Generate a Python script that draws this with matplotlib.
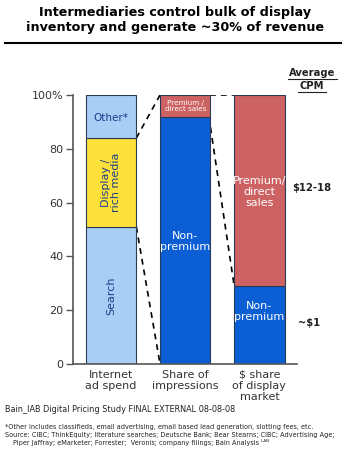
import matplotlib
matplotlib.use("Agg")
import matplotlib.pyplot as plt
from matplotlib.lines import Line2D

categories = ["Internet\nad spend", "Share of\nimpressions", "$ share\nof display\nmarket"]
# stacked segments (bottom to top)
spend_labels = ["Search", "Display /\nrich media", "Other*"]
spend_values = [51, 33, 16]
impr_labels = ["Non-\npremium", "Premium /\ndirect sales"]
impr_values = [92, 8]
dollar_labels = ["Non-\npremium", "Premium/\ndirect\nsales"]
dollar_values = [29, 71]
yticks = [0, 20, 40, 60, 80, 100]
ytick_labels = ["0", "20", "40", "60", "80", "100%"]
cpm_labels = ["~$1", "$12-18"]

c_lblue = "#a8cef5"
c_yellow = "#fde13a"
c_blue = "#0b5ed4"
c_red = "#cd6262"
edge = "#2b3a55"

fig = plt.figure(figsize=(3.5, 4.49), dpi=100)
W, H = 350, 449
ax = fig.add_axes([73 / W, 1 - 364 / H, (297 - 73) / W, (364 - 95) / H])

bw = 0.68
x = [0, 1, 2]

def stack(xpos, vals, colors):
    b = 0
    for v, c in zip(vals, colors):
        ax.bar(xpos, v, bottom=b, width=bw, color=c, edgecolor=edge, linewidth=0.8, zorder=2)
        b += v

stack(x[0], spend_values, [c_lblue, c_yellow, c_lblue])
stack(x[1], impr_values, [c_blue, c_red])
stack(x[2], dollar_values, [c_blue, c_red])

# segment labels
navy = "#1a3f8a"
ax.text(x[0], spend_values[0] / 2, spend_labels[0], rotation=90, ha="center", va="center",
        fontsize=8, color=navy)
ax.text(x[0], spend_values[0] + spend_values[1] / 2, spend_labels[1], rotation=90, ha="center",
        va="center", fontsize=8, color=navy, linespacing=1.0)
ax.text(x[0], spend_values[0] + spend_values[1] + spend_values[2] / 2 - 0.5, spend_labels[2],
        ha="center", va="center", fontsize=7.5, color=navy)
ax.text(x[1], impr_values[0] / 2 - 0.5, impr_labels[0], ha="center", va="center", fontsize=8,
        color="white", linespacing=1.1)
ax.text(x[1], impr_values[0] + impr_values[1] / 2, impr_labels[1], ha="center", va="center",
        fontsize=5.2, color="white", linespacing=0.95)
ax.text(x[2], dollar_values[0] / 2 + 5, dollar_labels[0], ha="center", va="center", fontsize=8,
        color="white", linespacing=1.1)
ax.text(x[2], dollar_values[0] + dollar_values[1] / 2 - 0.5, dollar_labels[1], ha="center",
        va="center", fontsize=8, color="white", linespacing=1.1)

# connector dashed lines
hw = bw / 2
top_display = spend_values[0] + spend_values[1]
dash = dict(color="black", linestyle=(0, (3.5, 3)), linewidth=1.2, zorder=1)
ax.plot([x[0] + hw, x[1] - hw], [top_display, 100], **dash)
ax.plot([x[0] + hw, x[1] - hw], [spend_values[0], 0], **dash)
ax.plot([x[1] + hw, x[2] - hw], [100, 100], **dash)
ax.plot([x[1] + hw, x[2] - hw], [impr_values[0] - 4, dollar_values[0]], **dash)

ax.set_xlim(-0.514, 2.507)
ax.set_ylim(0, 100)
ax.set_yticks(yticks)
ax.set_yticklabels(ytick_labels, fontsize=8, color="#333333")
ax.set_xticks(x)
ax.set_xticklabels(categories, fontsize=8, color="#333333", linespacing=1.15)
ax.tick_params(axis="x", length=0, pad=4)
ax.tick_params(axis="y", length=5, width=1, color="#555555", pad=2)
for s in ["top", "right"]:
    ax.spines[s].set_visible(False)
for s in ["left", "bottom"]:
    ax.spines[s].set_color("#555555")
    ax.spines[s].set_linewidth(1.2)

# CPM annotations
fig.text(292 / W, 1 - 188 / H, cpm_labels[1], ha="left", va="center", fontsize=7.2,
         fontweight="bold", color="#222222")
fig.text(298 / W, 1 - 323 / H, cpm_labels[0], ha="left", va="center", fontsize=7.2,
         fontweight="bold", color="#222222")
fig.text(312 / W, 1 - 73 / H, "Average", ha="center", va="center", fontsize=7.2,
         fontweight="bold", color="#222222")
fig.text(312 / W, 1 - 86 / H, "CPM", ha="center", va="center", fontsize=7.2,
         fontweight="bold", color="#222222")
fig.add_artist(Line2D([288 / W, 337 / W], [1 - 79 / H, 1 - 79 / H], color="#222222", lw=0.8))
fig.add_artist(Line2D([298 / W, 326 / W], [1 - 92 / H, 1 - 92 / H], color="#222222", lw=0.8))

# title
fig.text(0.5, 1 - 20 / H, "Intermediaries control bulk of display\ninventory and generate ~30% of revenue",
         ha="center", va="center", fontsize=9.2, fontweight="bold", color="black", linespacing=1.15)
fig.add_artist(Line2D([5 / W, 341 / W], [1 - 43 / H, 1 - 43 / H], color="black", lw=1.5))

# footer
fig.text(5 / W, 1 - 410 / H, "Bain_IAB Digital Pricing Study FINAL EXTERNAL 08-08-08", ha="left",
         va="center", fontsize=5.9, color="#222222")
fig.text(5 / W, 1 - 427 / H,
         "*Other includes classifieds, email advertising, email based lead generation, slotting fees, etc.",
         ha="left", va="center", fontsize=4.7, color="#222222")
fig.text(5 / W, 1 - 435 / H,
         "Source: CIBC; ThinkEquity; literature searches; Deutsche Bank; Bear Stearns; CIBC; Advertising Age;",
         ha="left", va="center", fontsize=4.7, color="#222222")
fig.text(13 / W, 1 - 443 / H,
         "Piper Jaffray; eMarketer; Forrester;  Veronis; company filings; Bain Analysis \u1d38\u1d2c\u1d3a",
         ha="left", va="center", fontsize=4.7, color="#222222")

fig.savefig("out.png", dpi=100)
